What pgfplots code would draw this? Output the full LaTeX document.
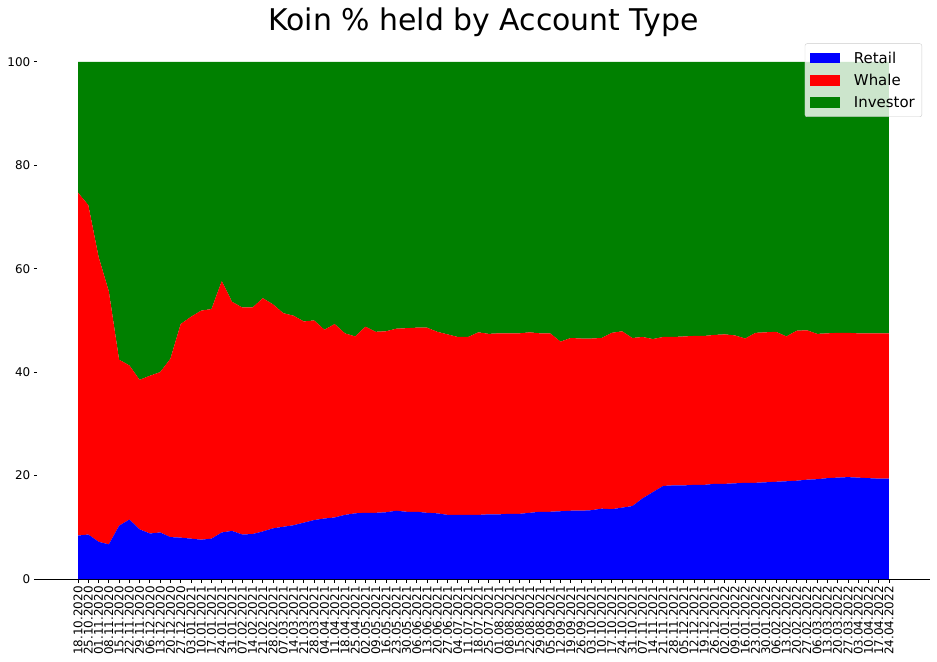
\documentclass[border=0pt]{standalone}
\usepackage{pgfplots}
\pgfplotsset{compat=1.18}
\usepackage{pgfplotstable}
\usepackage{fontspec}
\setmainfont{DejaVu Sans}

\pgfplotstableread{
i retail whale investor
0 8.4 66.3 25.3
1 8.6 63.7 27.7
2 7.2 55.1 37.7
3 6.7 48.9 44.4
4 10.3 32.1 57.6
5 11.5 29.8 58.7
6 9.6 28.9 61.5
7 8.8 30.5 60.7
8 9.0 31.0 60.0
9 8.1 34.5 57.4
10 8.0 41.3 50.7
11 7.8 42.9 49.3
12 7.6 44.3 48.1
13 7.8 44.4 47.8
14 9.0 48.6 42.4
15 9.3 44.3 46.4
16 8.6 43.9 47.5
17 8.7 43.8 47.5
18 9.2 45.1 45.7
19 9.8 43.3 46.9
20 10.1 41.3 48.6
21 10.4 40.5 49.1
22 10.9 38.9 50.2
23 11.4 38.6 50.0
24 11.7 36.5 51.8
25 11.9 37.4 50.7
26 12.4 35.1 52.5
27 12.7 34.2 53.1
28 12.8 36.0 51.2
29 12.8 35.0 52.2
30 12.9 35.0 52.1
31 13.2 35.2 51.6
32 13.0 35.5 51.5
33 13.0 35.6 51.4
34 12.8 35.8 51.4
35 12.7 35.1 52.2
36 12.4 34.9 52.7
37 12.4 34.4 53.2
38 12.4 34.4 53.2
39 12.4 35.3 52.3
40 12.5 34.9 52.6
41 12.5 35.0 52.5
42 12.6 34.9 52.5
43 12.6 34.9 52.5
44 12.8 34.9 52.3
45 13.0 34.5 52.5
46 13.0 34.5 52.5
47 13.1 32.8 54.1
48 13.2 33.4 53.4
49 13.2 33.3 53.5
50 13.3 33.2 53.5
51 13.6 33.0 53.4
52 13.5 34.1 52.4
53 13.8 34.1 52.1
54 14.1 32.5 53.4
55 15.6 31.2 53.2
56 16.8 29.6 53.6
57 18.0 28.8 53.2
58 18.1 28.7 53.2
59 18.1 28.8 53.1
60 18.2 28.8 53.0
61 18.2 28.8 53.0
62 18.4 28.8 52.8
63 18.4 28.9 52.7
64 18.5 28.6 52.9
65 18.6 27.9 53.5
66 18.6 29.0 52.4
67 18.7 29.0 52.3
68 18.8 29.0 52.2
69 18.9 28.0 53.1
70 19.0 29.0 52.0
71 19.2 28.9 51.9
72 19.3 28.1 52.6
73 19.5 28.0 52.5
74 19.6 28.0 52.4
75 19.7 27.9 52.4
76 19.6 27.9 52.5
77 19.5 28.0 52.5
78 19.4 28.1 52.5
79 19.4 28.1 52.5
}\data

\definecolor{mgreen}{HTML}{008000}

\begin{document}
\begin{tikzpicture}
\useasboundingbox (-37.5bp,-83bp) rectangle (899.5bp,579bp);
\begin{axis}[
  scale only axis, width=892bp, height=543bp,
  xmin=-3.95, xmax=82.95, ymin=0, ymax=105,
  axis lines*=left,
  y axis line style={draw=none},
  x axis line style={line width=0.8bp, -},
  stack plots=y,
  tick align=outside,
  major tick length=3.5bp,
  tick style={black, line width=0.8bp},
  ytick={0,20,40,60,80,100},
  xtick={0,...,79},
  xticklabels={18.10.2020,25.10.2020,01.11.2020,08.11.2020,15.11.2020,22.11.2020,29.11.2020,06.12.2020,13.12.2020,20.12.2020,27.12.2020,03.01.2021,10.01.2021,17.01.2021,24.01.2021,31.01.2021,07.02.2021,14.02.2021,21.02.2021,28.02.2021,07.03.2021,14.03.2021,21.03.2021,28.03.2021,04.04.2021,11.04.2021,18.04.2021,25.04.2021,02.05.2021,09.05.2021,16.05.2021,23.05.2021,30.05.2021,06.06.2021,13.06.2021,20.06.2021,27.06.2021,04.07.2021,11.07.2021,18.07.2021,25.07.2021,01.08.2021,08.08.2021,15.08.2021,22.08.2021,29.08.2021,05.09.2021,12.09.2021,19.09.2021,26.09.2021,03.10.2021,10.10.2021,17.10.2021,24.10.2021,31.10.2021,07.11.2021,14.11.2021,21.11.2021,28.11.2021,05.12.2021,12.12.2021,19.12.2021,26.12.2021,02.01.2022,09.01.2022,16.01.2022,23.01.2022,30.01.2022,06.02.2022,13.02.2022,20.02.2022,27.02.2022,06.03.2022,13.03.2022,20.03.2022,27.03.2022,03.04.2022,10.04.2022,17.04.2022,24.04.2022},
  tick label style={font=\fontsize{12}{14}\selectfont},
  /pgf/number format/assume math mode=true,
  xticklabel style={rotate=90, anchor=east, inner sep=0pt},
  yticklabel style={anchor=east, inner sep=0pt},
  xticklabel shift=3.5bp,
  yticklabel shift=3.5bp,
  title={Koin \% held by Account Type},
  title style={font=\fontsize{30}{36}\selectfont, at={(0.5,1)}, anchor=base, yshift=0bp},
  legend cell align=left,
  legend image code/.code={\fill[#1, sharp corners, fill opacity=1, draw=none] (0bp,-5.25bp) rectangle (30bp,5.25bp);},
  legend style={at={(1,1)}, anchor=north east, xshift=-7.5bp, yshift=-7.5bp,
    font=\fontsize{15}{18}\selectfont, draw=black!20, fill=white, fill opacity=0.8,
    text opacity=1, draw opacity=1, rounded corners=2bp,
    inner xsep=5bp, inner ysep=6bp, row sep=5.5bp, column sep=12bp},
]
\addplot[fill=blue, draw=none] table[x=i, y=retail] {\data} \closedcycle;
\addlegendentry{Retail}
\addplot[fill=red, draw=none] table[x=i, y=whale] {\data} \closedcycle;
\addlegendentry{Whale}
\addplot[fill=mgreen, draw=none] table[x=i, y=investor] {\data} \closedcycle;
\addlegendentry{Investor}
\end{axis}
\end{tikzpicture}
\end{document}
